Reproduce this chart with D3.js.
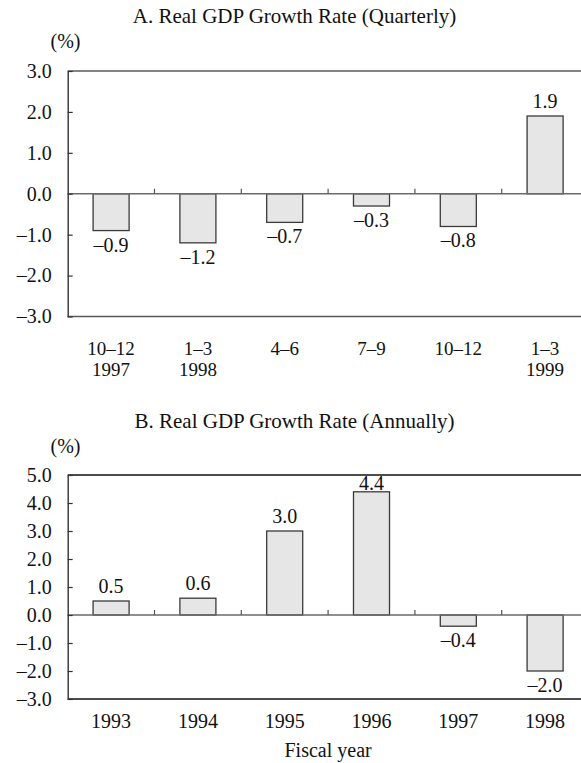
<!DOCTYPE html>
<html>
<head>
<meta charset="utf-8">
<script src="https://cdn.jsdelivr.net/npm/d3@7"></script>
<style>
  html, body { margin: 0; padding: 0; background: #fff; }
  svg text { font-family: "Liberation Serif", "DejaVu Serif", serif; fill: #111; }
</style>
</head>
<body>
<svg id="chart" width="581" height="763"></svg>
<script>
// ---- Data ----
const quarterLabels = ["10–12", "1–3", "4–6", "7–9", "10–12", "1–3"];
const quarterYears  = ["1997", "1998", "", "", "", "1999"];
const quarterValues = [-0.9, -1.2, -0.7, -0.3, -0.8, 1.9];
const quarterTicks  = [-3, -2, -1, 0, 1, 2, 3];

const annualLabels = ["1993", "1994", "1995", "1996", "1997", "1998"];
const annualValues = [0.5, 0.6, 3.0, 4.4, -0.4, -2.0];
const annualTicks  = [-3, -2, -1, 0, 1, 2, 3, 4, 5];

const titleA = "A.  Real GDP Growth Rate (Quarterly)";
const titleB = "B.  Real GDP Growth Rate (Annually)";
const unitLabel = "(%)";
const xAxisTitleB = "Fiscal year";

// ---- Drawing ----
const svg = d3.select("#chart");
const baseFmt = d3.format(".1f");
const fmt = d => baseFmt(d).replace(/[\u2212-]/, "\u2013");

function drawPanel(opt) {
  const g = svg.append("g");
  const left = 67.7, bandW = 86.8;
  const n = opt.values.length;
  const x = d3.scaleBand().domain(d3.range(n)).range([left, left + bandW * n]).paddingInner(0.585).paddingOuter(0.2925);
  const y = d3.scaleLinear().domain(opt.domain).range([opt.bottom, opt.top]);
  const right = left + bandW * n;

  // title and unit
  g.append("text").attr("x", 294.5).attr("y", opt.titleY).attr("text-anchor", "middle")
    .style("font-size", "21px").text(opt.title);
  g.append("text").attr("x", 50.5).attr("y", opt.unitY)
    .style("font-size", "20px").text(unitLabel);

  // top border
  g.append("line").attr("x1", left).attr("x2", right).attr("y1", y(opt.domain[1])).attr("y2", y(opt.domain[1]))
    .attr("stroke", opt.frameColor).attr("stroke-width", 1.5);
  // bottom border
  g.append("line").attr("x1", left).attr("x2", right).attr("y1", y(opt.domain[0])).attr("y2", y(opt.domain[0]))
    .attr("stroke", opt.frameColor).attr("stroke-width", 1.6);

  // bars
  g.selectAll("rect.bar").data(opt.values).join("rect").attr("class", "bar")
    .attr("x", (d, i) => x(i))
    .attr("width", x.bandwidth())
    .attr("y", d => y(Math.max(0, d)))
    .attr("height", d => Math.abs(y(d) - y(0)))
    .attr("fill", "#e6e6e6").attr("stroke", "#3a3a3a").attr("stroke-width", 1.3);

  // zero line with category separator ticks
  g.append("line").attr("x1", left).attr("x2", right).attr("y1", y(0)).attr("y2", y(0))
    .attr("stroke", "#6a6a6a").attr("stroke-width", 1.3);
  g.selectAll("line.sep").data(d3.range(1, n)).join("line").attr("class", "sep")
    .attr("x1", i => left + bandW * i).attr("x2", i => left + bandW * i)
    .attr("y1", y(0)).attr("y2", y(0) - 5)
    .attr("stroke", "#555").attr("stroke-width", 1.2);

  // left axis
  const ax = d3.axisLeft(y).tickValues(opt.ticks).tickFormat(fmt)
    .tickSizeInner(-5).tickSizeOuter(0).tickPadding(16);
  const axG = g.append("g").attr("transform", `translate(${left},0)`).call(ax);
  axG.select(".domain").attr("stroke", "#333").attr("stroke-width", 1.4);
  axG.selectAll(".tick line").attr("stroke", "#333").attr("stroke-width", 1.2);
  axG.selectAll(".tick text").style("font-size", "20px").style("font-family", "Liberation Serif").attr("fill", "#111");

  // value labels
  const top = y(opt.domain[1]);
  g.selectAll("text.val").data(opt.values).join("text").attr("class", "val")
    .attr("x", (d, i) => x(i) + x.bandwidth() / 2)
    .attr("y", d => d >= 0 ? Math.max(y(d) - 8, top + 15) : y(d) + 21)
    .attr("text-anchor", "middle").style("font-size", "20px")
    .text(d => fmt(d));

  // category labels
  const bottom = y(opt.domain[0]);
  g.selectAll("text.cat").data(opt.labels).join("text").attr("class", "cat")
    .attr("x", (d, i) => x(i) + x.bandwidth() / 2)
    .attr("y", bottom + opt.catDy)
    .attr("text-anchor", "middle").style("font-size", opt.catSize).text(d => d);
  if (opt.labels2) {
    g.selectAll("text.cat2").data(opt.labels2).join("text").attr("class", "cat2")
      .attr("x", (d, i) => x(i) + x.bandwidth() / 2)
      .attr("y", bottom + opt.catDy + 21.3)
      .attr("text-anchor", "middle").style("font-size", opt.catSize).text(d => d);
  }
  if (opt.xTitle) {
    g.append("text").attr("x", left + bandW * n / 2).attr("y", opt.xTitleY)
      .attr("text-anchor", "middle").style("font-size", "20px").text(opt.xTitle);
  }
}

drawPanel({
  title: titleA, titleY: 22.7, unitY: 48,
  values: quarterValues, labels: quarterLabels, labels2: quarterYears,
  ticks: quarterTicks, domain: [-3, 3], top: 71, bottom: 316.5,
  frameColor: "#5a5a5a", catDy: 38.3, catSize: "19px"
});

drawPanel({
  title: titleB, titleY: 428.3, unitY: 453.3,
  values: annualValues, labels: annualLabels,
  ticks: annualTicks, domain: [-3, 5], top: 475, bottom: 699,
  frameColor: "#111", catDy: 29.3, catSize: "20px",
  xTitle: xAxisTitleB, xTitleY: 756.5
});
</script>
</body>
</html>
